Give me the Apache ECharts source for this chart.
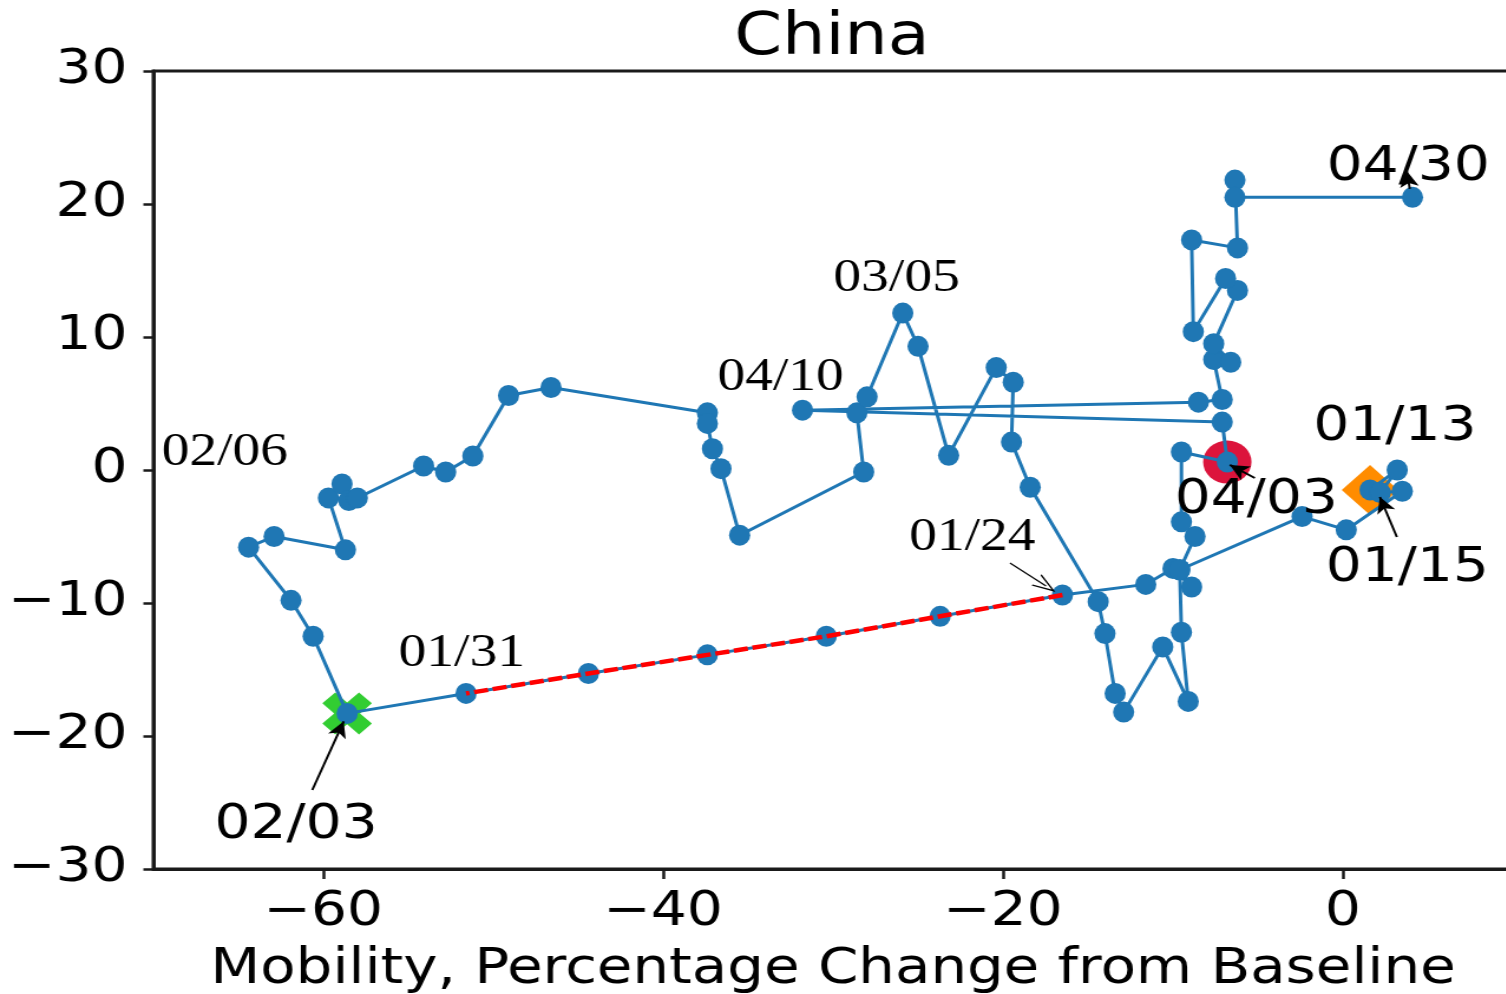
<!DOCTYPE html>
<html>
<head>
<meta charset="utf-8">
<script src="https://cdn.jsdelivr.net/npm/echarts@6/dist/echarts.min.js"></script>
<style>
  html, body { margin: 0; padding: 0; background: #fff; overflow: hidden; }
  /* the figure is drawn narrower and widened horizontally */
  #chart { width: 1277px; height: 994px; transform: scaleX(1.18); transform-origin: 0 0; }
</style>
</head>
<body>
<div id="chart"></div>
<script>
// Trajectory, one point per observation, in time order (01/13 -> 04/30)
const mobility = [1.6, 3.2, 2.2, 3.5, 0.2, -2.4, -9.6, -8.9, -10.0, -11.6,
  -16.5, -23.7, -30.4, -37.4, -44.4, -51.6, -58.6, -60.6, -61.9, -64.4,
  -62.9, -58.7, -59.7, -58.9, -58.5, -58.0, -54.1, -52.8, -51.2, -49.1,
  -46.6, -37.4, -37.4, -37.1, -36.6, -35.5, -28.2, -28.6, -28.0, -25.9,
  -25.0, -23.2, -20.4, -19.4, -19.5, -18.4, -14.4, -14.0, -13.4, -12.9,
  -10.6, -9.1, -9.5, -9.6, -8.7, -9.5, -9.5, -6.8, -7.1, -31.8,
  -8.5, -7.1, -7.6, -6.6, -7.6, -6.2, -6.9, -8.8, -8.9, -6.2,
  -6.35, -6.35, 4.1];
const trend = [-1.5, 0.0, -1.7, -1.6, -4.5, -3.5, -7.5, -8.8, -7.4, -8.6,
  -9.4, -11.0, -12.5, -13.9, -15.3, -16.8, -18.3, -12.5, -9.8, -5.8,
  -5.0, -6.0, -2.1, -1.05, -2.3, -2.1, 0.3, -0.15, 1.05, 5.6,
  6.2, 4.3, 3.5, 1.6, 0.1, -4.9, -0.15, 4.3, 5.5, 11.8,
  9.3, 1.1, 7.7, 6.6, 2.1, -1.3, -9.9, -12.3, -16.8, -18.2,
  -13.3, -17.4, -12.2, -7.5, -5.0, -3.9, 1.35, 0.6, 3.6, 4.5,
  5.1, 5.3, 8.3, 8.1, 9.5, 13.5, 14.4, 10.4, 17.3, 16.7,
  21.8, 20.5, 20.5];

// Highlighted observations
const startIdx = 0;      // 01/13
const lowIdx = 16;       // 02/03
const aprilIdx = 57;     // 04/03
const dashFrom = 10;     // 01/24
const dashTo = 15;       // 01/31

// Axis ticks
const xTicks = [-60, -40, -20, 0];
const xRange = [-70, 10];
const yRange = [-30, 30];
const yStep = 10;

// Date notes: text and its centre in data units
const noteText = ['01/13', '01/15', '01/24', '01/31', '02/03', '02/06', '03/05', '04/03', '04/10', '04/30'];
const noteX = [3.06, 3.79, -21.8, -51.85, -61.6, -65.8, -26.26, -5.09, -33.09, 3.85];
const noteY = [3.2, -7.44, -5.08, -13.8, -26.7, 1.28, 14.36, -2.26, 6.92, 22.74];
const noteSerif = [false, false, true, true, false, true, true, false, true, false];

// Note arrows: tail -> tip in data units
const arrowTail = [[-60.65, -24.06], [3.18, -5.04], [-5.18, -0.6], [3.94, 21.13]];
const arrowTip = [[-58.8, -18.9], [2.18, -2.03], [-6.65, 0.38], [3.76, 22.48]];
const openArrowTail = [-19.59, -6.99];
const openArrowTip = [-17.47, -8.72];

const BLUE = '#1f77b4';
const SANS = 'DejaVu Sans';
const SERIF = 'Liberation Serif';
const INK = '#1a1a1a';

const points = mobility.map((m, i) => [m, trend[i]]);
const minus = v => String(v).replace('-', '\u2212');

const chart = echarts.init(document.getElementById('chart'), null, { renderer: 'canvas' });

chart.setOption({
  animation: false,
  backgroundColor: '#fff',
  title: {
    text: 'China',
    left: 700,
    top: 5,
    textAlign: 'center',
    textStyle: { fontFamily: SANS, fontSize: 58, fontWeight: 'normal', color: '#000' }
  },
  grid: {
    left: 130, right: -5, top: 71, bottom: 125,
    outerBoundsMode: 'none',
    show: true, borderColor: INK, borderWidth: 3, backgroundColor: 'transparent'
  },
  xAxis: {
    type: 'value',
    min: xRange[0], max: xRange[1],
    splitLine: { show: false },
    axisLine: { show: true, onZero: false, lineStyle: { color: INK, width: 3 } },
    axisTick: { show: true, length: 10, customValues: xTicks, lineStyle: { color: INK, width: 2.5 } },
    axisLabel: {
      customValues: xTicks, margin: 20, formatter: minus,
      fontFamily: SANS, fontSize: 48, color: '#000'
    },
    name: 'Mobility, Percentage Change from Baseline',
    nameLocation: 'middle',
    nameGap: 77,
    nameTextStyle: { fontFamily: SANS, fontSize: 49, color: '#000' }
  },
  yAxis: {
    type: 'value',
    min: yRange[0], max: yRange[1], interval: yStep,
    splitLine: { show: false },
    axisLine: { show: true, onZero: false, lineStyle: { color: INK, width: 3 } },
    axisTick: { show: true, length: 8.5, lineStyle: { color: INK, width: 2.5 } },
    axisLabel: { margin: 22, formatter: minus, fontFamily: SANS, fontSize: 48, color: '#000' }
  },
  series: [
    {
      // start, lowest-mobility and 04/03 markers, under the trajectory
      type: 'scatter',
      z: 1,
      itemStyle: { opacity: 1 },
      data: [
        { value: points[startIdx], symbol: 'diamond', symbolSize: [48, 50], itemStyle: { color: '#ff8c00', opacity: 1 } },
        { value: points[lowIdx],
          symbol: 'path://M2.6,0 L5,2.4 L7.4,0 L10,2.6 L7.6,5 L10,7.4 L7.4,10 L5,7.6 L2.6,10 L0,7.4 L2.4,5 L0,2.6 Z',
          symbolSize: [42, 42], itemStyle: { color: '#32cd32', opacity: 1 } },
        { value: points[aprilIdx], symbol: 'circle', symbolSize: [41, 43], itemStyle: { color: '#dc143c', opacity: 1 } }
      ],
      silent: true
    },
    {
      type: 'line',
      z: 2,
      data: points,
      symbol: 'circle',
      symbolSize: [18, 21],
      showSymbol: true,
      lineStyle: { color: BLUE, width: 3 },
      itemStyle: { color: BLUE, opacity: 1 },
      silent: true
    },
    {
      // lockdown week highlighted in red dashes
      type: 'line',
      z: 3,
      data: points.slice(dashFrom, dashTo + 1),
      symbol: 'none',
      lineStyle: { color: '#ff0000', width: 4.5, type: [12, 4] },
      silent: true
    },
    {
      type: 'scatter',
      z: 4,
      symbol: 'circle',
      symbolSize: 0,
      itemStyle: { color: 'rgba(0,0,0,0)' },
      silent: true,
      data: noteText.map((t, i) => ({
        value: [noteX[i], noteY[i]],
        label: {
          show: true, position: 'inside', align: 'center', verticalAlign: 'middle',
          formatter: t, color: '#000', opacity: 1,
          fontFamily: noteSerif[i] ? SERIF : SANS,
          fontSize: noteSerif[i] ? 47 : 48
        }
      })),
      markLine: {
        silent: true,
        animation: false,
        symbol: ['none', 'arrow'],
        symbolSize: [12, 16],
        label: { show: false },
        lineStyle: { color: '#000', width: 2, type: 'solid', opacity: 1 },
        emphasis: { disabled: true },
        data: arrowTail.map((a, i) => [{ coord: a }, { coord: arrowTip[i] }])
      }
    },
    {
      type: 'scatter',
      z: 4,
      data: [],
      silent: true,
      markLine: {
        silent: true,
        animation: false,
        symbol: ['none', 'path://M0,10 L5,0 L10,10 L9,10 L5,2 L1,10 Z'],
        symbolSize: [14, 20],
        label: { show: false },
        lineStyle: { color: '#000', width: 1.2, type: 'solid', opacity: 1 },
        emphasis: { disabled: true },
        data: [[{ coord: openArrowTail }, { coord: openArrowTip }]]
      }
    }
  ]
});
</script>
</body>
</html>
